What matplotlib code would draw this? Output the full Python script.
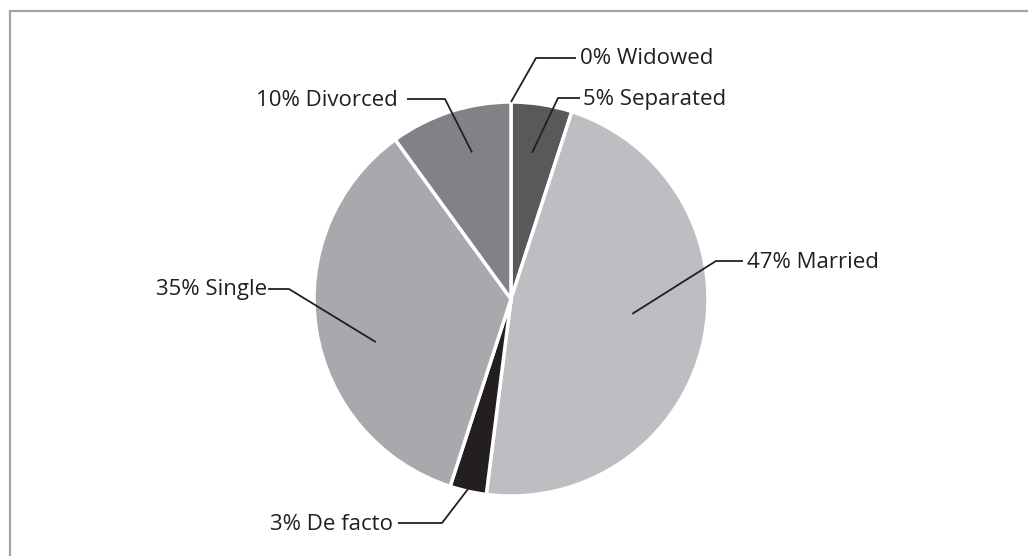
import numpy as np
import matplotlib.pyplot as plt
from matplotlib.patches import Rectangle

# data
labels = ["Widowed", "Separated", "Married", "De facto", "Single", "Divorced"]
shares = [0, 5, 47, 3, 35, 10]
colors = ["#6d6e71", "#58595b", "#bcbec1", "#231f20", "#a7a9ac", "#808285"]

# leader layout: (radius frac, angle tweak, elbow x, elbow y, end x, text gap) -- pixel coords, y down
leaders = [
    (1.00, 0.0, 536, 58, 576, 4),
    (0.75, 0.8, 558, 98, 580, 3),
    (0.62, 5.6, 716, 261, 743, 4),
    (0.98, 0.1, 442, 523, 398, -5),
    (0.72, 8.7, 289, 289, 268, -1),
    (0.77, -3.1, 445, 99, 407, -9),
]

W, H = 1028, 556
CX, CY, R = 511, 299, 197

fig = plt.figure(figsize=(W / 100, H / 100), dpi=100)
ax = fig.add_axes([0, 0, 1, 1])

wedges, _ = ax.pie(shares, colors=colors, startangle=90, counterclock=False,
                   center=(CX, H - CY), radius=R,
                   wedgeprops=dict(edgecolor="white", linewidth=2.5))
ax.set_xlim(0, W)
ax.set_ylim(0, H)
ax.set_aspect("equal")
ax.axis("off")

# frame around chart (runs off the right and bottom edges)
ax.add_patch(Rectangle((10, -20), W + 20, H - 11 + 20, fill=False,
                       edgecolor="#a3a3a3", linewidth=1.6))

for w, lab, val, (rf, dt, ex, ey, tx, gap) in zip(wedges, labels, shares, leaders):
    mid = np.deg2rad((w.theta1 + w.theta2) / 2 + dt)
    px = CX + rf * R * np.cos(mid)
    py = (H - CY) + rf * R * np.sin(mid)
    ax.plot([px, ex, tx], [py, H - ey, H - ey], color="#231f20", lw=1.3, solid_capstyle="butt")
    ax.text(tx + gap, H - ey - 1, f"{val}% {lab}", ha="left" if gap > 0 else "right",
            va="center", fontsize=16, family="Open Sans", color="#231f20")

fig.savefig("out.png", dpi=100)
